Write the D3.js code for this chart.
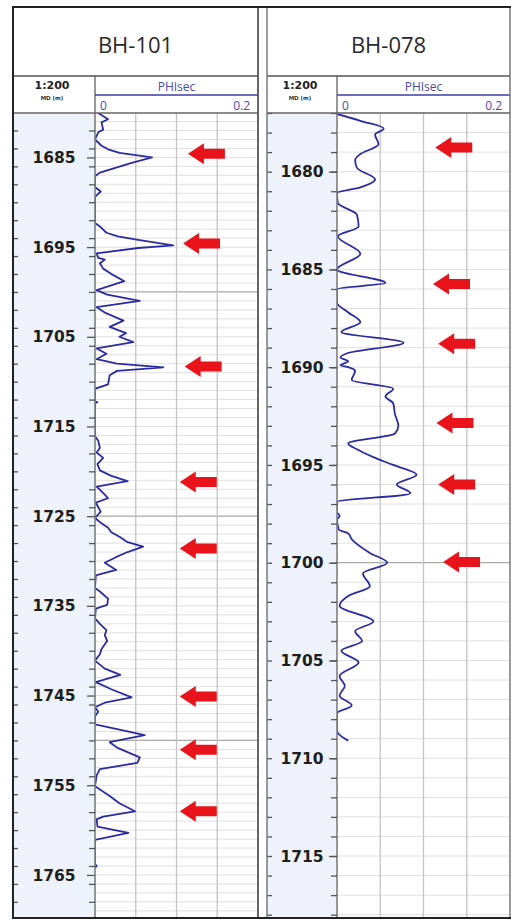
<!DOCTYPE html>
<html>
<head>
<meta charset="utf-8">
<script src="https://cdn.jsdelivr.net/npm/d3@7"></script>
<style>
html, body { margin: 0; padding: 0; background: #fff; }
svg { display: block; }
</style>
</head>
<body>
<div id="chart"></div>
<script>
// --- BH-101 : measured depth (m) and PHIsec ---
const bh101Depth = [1680.0, 1680.75, 1681.1, 1681.9, 1682.2, 1683.0, 1683.7, 1684.1, 1684.5, 1685.0,
  1685.6, 1686.2, 1686.7, 1687.1, 1688.3, 1688.8, 1689.4, 1692.3, 1692.7, 1693.4,
  1693.8, 1694.2, 1694.8, 1695.1, 1695.7, 1696.2, 1696.4, 1696.8, 1697.4, 1698.1,
  1698.8, 1699.8, 1700.3, 1701.0, 1701.7, 1702.3, 1703.2, 1703.9, 1704.6, 1705.0,
  1705.6, 1706.3, 1706.9, 1707.5, 1708.0, 1708.4, 1708.8, 1709.3, 1710.3, 1710.8,
  1712.2, 1712.3, 1712.4, 1716.1, 1716.6, 1717.4, 1717.9, 1718.5, 1719.2, 1719.9,
  1720.5, 1721.1, 1721.7, 1722.4, 1723.0, 1723.5, 1724.5, 1725.2, 1725.8, 1726.3,
  1726.8, 1727.3, 1727.9, 1728.4, 1729.0, 1729.6, 1730.2, 1731.0, 1731.6, 1733.0,
  1733.4, 1734.2, 1734.9, 1735.3, 1736.4, 1737.0, 1737.7, 1738.3, 1738.9, 1739.8,
  1740.4, 1741.1, 1742.0, 1742.7, 1743.5, 1744.3, 1745.2, 1745.8, 1746.3, 1746.8,
  1747.3, 1748.2, 1748.8, 1749.4, 1750.2, 1750.8, 1751.9, 1752.5, 1753.2, 1753.9,
  1755.1, 1756.2, 1757.0, 1757.9, 1758.5, 1758.8, 1759.6, 1760.3, 1761.1, 1763.8,
  1764.0, 1764.2];
const bh101Phi = [0.003, 0.016, 0.008, 0.010, 0.004, 0.000, 0.008, 0.016, 0.030, 0.070,
  0.045, 0.024, 0.006, 0.000, 0.000, 0.007, 0.000, 0.000, 0.006, 0.014,
  0.028, 0.053, 0.096, 0.053, 0.002, 0.004, 0.012, 0.006, 0.010, 0.022,
  0.036, 0.002, 0.015, 0.055, 0.002, 0.012, 0.035, 0.018, 0.038, 0.030,
  0.047, 0.002, 0.014, 0.002, 0.027, 0.084, 0.027, 0.018, 0.016, 0.000,
  0.000, 0.003, 0.000, 0.000, 0.004, 0.006, 0.002, 0.010, 0.003, 0.006,
  0.020, 0.040, 0.002, 0.010, 0.016, 0.001, 0.007, 0.000, 0.008, 0.016,
  0.020, 0.030, 0.040, 0.059, 0.040, 0.025, 0.012, 0.026, 0.001, 0.000,
  0.006, 0.016, 0.015, 0.001, 0.000, 0.006, 0.014, 0.012, 0.015, 0.008,
  0.006, 0.000, 0.012, 0.031, 0.001, 0.020, 0.045, 0.012, 0.000, 0.004,
  0.000, 0.000, 0.030, 0.061, 0.018, 0.027, 0.055, 0.052, 0.006, 0.002,
  0.000, 0.018, 0.030, 0.049, 0.010, 0.002, 0.003, 0.041, 0.000, 0.000,
  0.002, 0.000];
const bh101Labels = [1685, 1695, 1705, 1715, 1725, 1735, 1745, 1755, 1765];
const bh101ArrowDepth = [1684.6, 1694.6, 1708.3, 1721.2, 1728.6, 1745.1, 1751.05, 1757.9];
const bh101ArrowPhi = [0.114, 0.108, 0.110, 0.104, 0.104, 0.104, 0.104, 0.104];

// --- BH-078 ---
const bh078Depth = [1677.05, 1677.4, 1677.8, 1678.1, 1678.6, 1679.1, 1679.4, 1679.8, 1680.4, 1680.8,
  1681.1, 1681.6, 1682.2, 1682.8, 1683.3, 1684.2, 1685.0, 1685.7, 1686.0, 1686.7,
  1687.2, 1687.7, 1688.2, 1688.75, 1689.3, 1689.5, 1689.7, 1689.9, 1690.0, 1690.2,
  1690.65, 1691.1, 1691.5, 1691.85, 1692.4, 1693.0, 1693.4, 1693.9, 1694.2, 1694.6,
  1695.0, 1695.5, 1696.0, 1696.45, 1696.9, 1697.4, 1697.6, 1697.8, 1698.3, 1698.5,
  1698.8, 1699.5, 1700.0, 1700.55, 1701.2, 1701.7, 1702.2, 1703.0, 1703.5, 1704.0,
  1704.5, 1705.1, 1705.8, 1706.3, 1706.8, 1707.3, 1707.7, 1708.6, 1709.1];
const bh078Phi = [0.000, 0.027, 0.054, 0.044, 0.048, 0.027, 0.021, 0.023, 0.044, 0.027,
  0.000, 0.001, 0.023, 0.025, 0.001, 0.027, 0.000, 0.056, 0.000, 0.000,
  0.013, 0.027, 0.005, 0.077, 0.011, 0.004, 0.013, 0.004, 0.013, 0.021,
  0.017, 0.065, 0.056, 0.065, 0.067, 0.071, 0.067, 0.013, 0.023, 0.042,
  0.065, 0.092, 0.069, 0.085, 0.000, 0.000, 0.003, 0.000, 0.002, 0.013,
  0.017, 0.038, 0.058, 0.030, 0.038, 0.013, 0.003, 0.042, 0.021, 0.029,
  0.005, 0.025, 0.003, 0.009, 0.003, 0.017, 0.000, 0.000, 0.013];
const bh078Labels = [1680, 1685, 1690, 1695, 1700, 1705, 1710, 1715];
const bh078ArrowDepth = [1678.76, 1685.75, 1688.8, 1692.85, 1696.0, 1699.96];
const bh078ArrowPhi = [0.1136, 0.111, 0.117, 0.115, 0.117, 0.1226];

const phiDomain = [0, 0.2];

// layout
const W = 511, H = 922;
const frameTop = 7, headY = 76, plotTop = 113, plotBottom = 918;

const panels = [
  { title: "BH-101", x0: 13, x1: 258, xd: 95, domain: [1680.05, 1769.8], tickStep: 2,
    depth: bh101Depth, phi: bh101Phi, labels: bh101Labels,
    arrowDepth: bh101ArrowDepth, arrowPhi: bh101ArrowPhi, curve: d3.curveLinear },
  { title: "BH-078", x0: 267, x1: 510, xd: 337, domain: [1677.0, 1718.17], tickStep: 1,
    depth: bh078Depth, phi: bh078Phi, labels: bh078Labels,
    arrowDepth: bh078ArrowDepth, arrowPhi: bh078ArrowPhi, curve: d3.curveMonotoneY }
];

const svg = d3.select("#chart").append("svg")
  .attr("width", W).attr("height", H);

svg.append("rect").attr("width", W).attr("height", H).attr("fill", "#fff");

const blue = "#2b2ba3";

panels.forEach((p, i) => {
  const g = svg.append("g");
  const y = d3.scaleLinear().domain(p.domain).range([plotTop, plotBottom]);
  const x = d3.scaleLinear().domain(phiDomain).range([p.xd, p.x1]);

  // depth track background
  g.append("rect")
    .attr("x", p.x0).attr("y", plotTop)
    .attr("width", p.xd - p.x0).attr("height", plotBottom - plotTop)
    .attr("fill", "#eef3fb");

  // horizontal grid, every metre
  const metres = d3.range(Math.ceil(p.domain[0]), p.domain[1], 1);
  g.append("g").selectAll("line").data(metres).join("line")
    .attr("x1", p.xd).attr("x2", p.x1)
    .attr("y1", d => y(d)).attr("y2", d => y(d))
    .attr("stroke", d => d % 25 === 0 ? "#a9a9a9" : "#e0e0e0")
    .attr("stroke-width", d => d % 25 === 0 ? 1.2 : 1);

  // vertical grid
  g.append("g").selectAll("line").data(x.ticks(5).slice(1, -1)).join("line")
    .attr("x1", d => x(d)).attr("x2", d => x(d))
    .attr("y1", plotTop).attr("y2", plotBottom)
    .attr("stroke", "#c4c4c4").attr("stroke-width", 1.3);

  // curve
  const clipId = "clip" + i;
  svg.append("clipPath").attr("id", clipId).append("rect")
    .attr("x", p.xd).attr("y", plotTop)
    .attr("width", p.x1 - p.xd).attr("height", plotBottom - plotTop);

  const line = d3.line()
    .x((d, k) => x(p.phi[k]))
    .y(d => y(d))
    .curve(p.curve);

  g.append("path")
    .attr("clip-path", `url(#${clipId})`)
    .attr("d", line(p.depth))
    .attr("fill", "none")
    .attr("stroke", blue)
    .attr("stroke-width", 1.8)
    .attr("stroke-linejoin", "round");

  // arrows (left-pointing)
  const arrow = "M0,0 L16,-10.5 L16,-5 L37,-5 L37,5 L16,5 L16,10.5 Z";
  g.append("g").selectAll("path").data(p.arrowDepth).join("path")
    .attr("transform", (d, k) => `translate(${x(p.arrowPhi[k])},${y(d)})`)
    .attr("d", arrow)
    .attr("fill", "#e8131b");

  // track separator (drawn over the curve so zero readings vanish into it)
  g.append("line")
    .attr("x1", p.xd).attr("x2", p.xd)
    .attr("y1", headY).attr("y2", plotBottom)
    .attr("stroke", "#7d7d7d").attr("stroke-width", 1.6);

  // depth ticks
  const minor = d3.range(Math.ceil(p.domain[0] / p.tickStep) * p.tickStep, p.domain[1], p.tickStep);
  const rightTicks = g.append("g").attr("transform", `translate(${p.xd},0)`)
    .call(d3.axisLeft(y).tickValues(minor).tickSize(6).tickFormat(""));
  const leftTicks = g.append("g").attr("transform", `translate(${p.x0},0)`)
    .call(d3.axisRight(y).tickValues(minor).tickSize(5).tickFormat(""));
  const majorTicks = g.append("g").attr("transform", `translate(${p.xd},0)`)
    .call(d3.axisLeft(y).tickValues(p.labels).tickSize(8).tickFormat(""));
  [rightTicks, leftTicks, majorTicks].forEach(a => {
    a.select(".domain").remove();
    a.selectAll("line").attr("stroke", "#555").attr("stroke-width", 1.3);
  });

  g.append("g").selectAll("text").data(p.labels).join("text")
    .attr("x", (p.x0 + p.xd) / 2)
    .attr("y", d => y(d))
    .attr("dy", "0.36em")
    .attr("text-anchor", "middle")
    .attr("font-family", "DejaVu Sans, Verdana, sans-serif")
    .attr("font-weight", "bold")
    .attr("font-size", 15.5)
    .attr("fill", "#1e1e1e")
    .text(d => d);

  // header: title
  g.append("text")
    .attr("x", (p.x0 + p.x1) / 2).attr("y", 53)
    .attr("text-anchor", "middle")
    .attr("font-family", "Open Sans, Noto Sans, sans-serif")
    .attr("font-size", 22)
    .attr("fill", "#2a2a2a")
    .text(p.title);

  // header: scale cell
  const dc = (p.x0 + p.xd) / 2 - 2;
  g.append("text")
    .attr("x", dc).attr("y", 89)
    .attr("text-anchor", "middle")
    .attr("font-family", "DejaVu Sans, Verdana, sans-serif")
    .attr("font-weight", "bold")
    .attr("font-size", 11)
    .attr("fill", "#222")
    .text("1:200");
  g.append("text")
    .attr("x", dc).attr("y", 100)
    .attr("text-anchor", "middle")
    .attr("font-family", "DejaVu Sans, Verdana, sans-serif")
    .attr("font-weight", "bold")
    .attr("font-size", 5.5)
    .attr("fill", "#333")
    .text("MD (m)");

  // header: curve cell
  g.append("text")
    .attr("x", (p.xd + p.x1) / 2).attr("y", 91)
    .attr("text-anchor", "middle")
    .attr("font-family", "Open Sans, Noto Sans, sans-serif")
    .attr("font-size", 12)
    .attr("fill", "#4a4ab0")
    .text("PHIsec");
  g.append("line")
    .attr("x1", p.xd).attr("x2", p.x1).attr("y1", 95).attr("y2", 95)
    .attr("stroke", "#3c3caa").attr("stroke-width", 1.5);
  g.append("text")
    .attr("x", x(phiDomain[0]) + 5).attr("y", 110)
    .attr("font-family", "Open Sans, Noto Sans, sans-serif")
    .attr("font-size", 12)
    .attr("fill", "#4a4ab0")
    .text(phiDomain[0]);
  g.append("text")
    .attr("x", x(phiDomain[1]) - 8).attr("y", 110)
    .attr("text-anchor", "end")
    .attr("font-family", "Open Sans, Noto Sans, sans-serif")
    .attr("font-size", 12)
    .attr("fill", "#4a4ab0")
    .text(phiDomain[1]);

  // header rules
  g.append("line").attr("x1", p.x0).attr("x2", p.x1).attr("y1", headY).attr("y2", headY)
    .attr("stroke", "#555").attr("stroke-width", 1.5);
  g.append("line").attr("x1", p.x0).attr("x2", p.x1).attr("y1", plotTop).attr("y2", plotTop)
    .attr("stroke", "#666").attr("stroke-width", 1.3);

  // panel side borders
  g.append("line").attr("x1", p.x0).attr("x2", p.x0).attr("y1", frameTop).attr("y2", plotBottom)
    .attr("stroke", i === 0 ? "#222" : "#777").attr("stroke-width", i === 0 ? 2 : 1.5);
  g.append("line").attr("x1", p.x1).attr("x2", p.x1).attr("y1", frameTop).attr("y2", plotBottom)
    .attr("stroke", i === 0 ? "#555" : "#777").attr("stroke-width", i === 0 ? 1.8 : 1.5);
});

// outer frame top and bottom
svg.append("line").attr("x1", 12).attr("x2", W).attr("y1", frameTop).attr("y2", frameTop)
  .attr("stroke", "#222").attr("stroke-width", 2);
svg.append("line").attr("x1", 12).attr("x2", W).attr("y1", plotBottom).attr("y2", plotBottom)
  .attr("stroke", "#222").attr("stroke-width", 2);
</script>
</body>
</html>
